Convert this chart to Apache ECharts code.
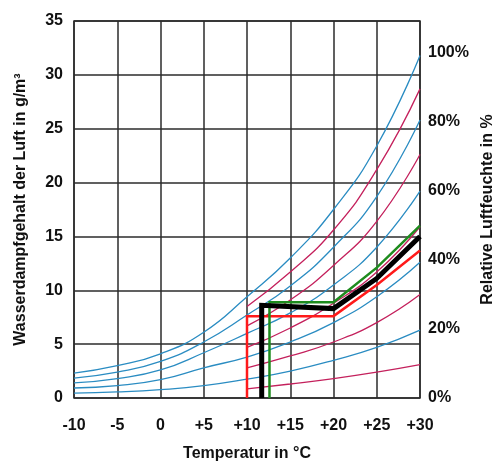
<!DOCTYPE html>
<html>
<head>
<meta charset="utf-8">
<script src="https://cdn.jsdelivr.net/npm/echarts@6/dist/echarts.min.js"></script>
<style>
html,body{margin:0;padding:0;background:#fff;}
#c{width:500px;height:471px;}
</style>
</head>
<body>
<div id="c"></div>
<script>
// Temperatures (°C) at which the humidity curves are read
const temps = [-10, -5, 0, 5, 10, 15, 20, 25, 30];
// Absolute humidity (g/m³) for each relative humidity curve
const rh100 = [2.3, 3.0, 4.1, 6.1, 9.4, 13.0, 17.5, 23.4, 31.8];
const rh90  = [null, null, null, null, 8.5, 11.7, 15.6, 21.2, 28.7];
const rh80  = [1.85, 2.4, 3.4, 5.2, 7.7, 10.4, 14.0, 18.7, 25.8];
const rh70  = [null, null, null, null, 6.7, 9.1, 12.3, 16.4, 22.6];
const rh60  = [1.4, 1.8, 2.6, 4.2, 6.0, 7.9, 10.5, 14.0, 19.2];
const rh50  = [null, null, null, null, 4.7, 6.5, 8.8, 11.7, 15.9];
const rh40  = [0.93, 1.15, 1.7, 2.8, 3.8, 5.2, 7.0, 9.4, 12.6];
const rh30  = [null, null, null, null, 2.8, 3.9, 5.2, 7.0, 9.6];
const rh20  = [0.46, 0.56, 0.77, 1.14, 1.75, 2.5, 3.5, 4.7, 6.3];
const rh10  = [null, null, null, null, 0.85, 1.3, 1.8, 2.4, 3.1];

// Highlighted paths: [temperature, g/m³]
const redPath   = [[10, 0], [10, 7.6], [20, 7.6], [25, 10.5], [30, 13.7]];
const greenPath = [[12.6, 0], [12.6, 8.9], [20, 8.9], [25, 12.1], [30, 16.0]];
const blackPath = [[11.7, 0], [11.7, 8.6], [20, 8.3], [25, 11.1], [30, 15.0]];

// Axis ticks
const xTicks = [-10, -5, 0, 5, 10, 15, 20, 25, 30];
const yTicks = [0, 5, 10, 15, 20, 25, 30, 35];
const rhTicks = [0, 20, 40, 60, 80, 100];

const BLUE = '#2a8cc2';
const CRIMSON = '#c4205c';
const FONT = 'Liberation Sans, Arial, sans-serif';

function curve(vals, color) {
  const data = [];
  temps.forEach((t, i) => { if (vals[i] != null) data.push([t, vals[i]]); });
  return {
    type: 'line', data: data, smooth: 0.5, showSymbol: false,
    lineStyle: { color: color, width: 1.3 }, z: 2, silent: true
  };
}
function path(pts, color, w, z) {
  return {
    type: 'line', data: pts, showSymbol: false, smooth: false,
    lineStyle: { color: color, width: w, join: 'miter', cap: 'butt' }, z: z, silent: true
  };
}

const chart = echarts.init(document.getElementById('c'), null, { renderer: 'canvas' });
const labelStyle = { fontFamily: FONT, fontWeight: 'bold', fontSize: 16, color: '#111' };

chart.setOption({
  animation: false,
  backgroundColor: '#fff',
  grid: { left: 74, right: 80, top: 21, bottom: 73, show: true, borderColor: '#2b2b2b', borderWidth: 1.5,
          containLabel: false, outerBoundsMode: 'none' },
  xAxis: {
    type: 'value', min: xTicks[0], max: xTicks[xTicks.length - 1], interval: 5,
    axisLine: { show: false }, axisTick: { show: false },
    splitLine: { show: true, lineStyle: { color: '#2b2b2b', width: 1.5 } },
    axisLabel: Object.assign({ margin: 20, formatter: v => (v > 0 ? '+' + v : '' + v) }, labelStyle),
    name: 'Temperatur in °C', nameLocation: 'middle', nameGap: 48,
    nameTextStyle: labelStyle
  },
  yAxis: [
    {
      type: 'value', min: yTicks[0], max: yTicks[yTicks.length - 1], interval: 5,
      axisLine: { show: false }, axisTick: { show: false },
      splitLine: { show: true, lineStyle: { color: '#2b2b2b', width: 1.5 } },
      axisLabel: Object.assign({ margin: 11 }, labelStyle),
      name: 'Wasserdampfgehalt der Luft in g/m³', nameLocation: 'middle', nameGap: 45,
      nameTextStyle: labelStyle
    },
    {
      type: 'value', min: 0, max: 109, interval: 20, position: 'right',
      axisLine: { show: false }, axisTick: { show: false }, splitLine: { show: false },
      axisLabel: Object.assign({ margin: 8, formatter: v => (rhTicks.indexOf(v) >= 0 ? v + '%' : '') }, labelStyle),
      name: 'Relative Luftfeuchte in %', nameLocation: 'middle', nameGap: 54,
      nameTextStyle: labelStyle
    }
  ],
  series: [
    curve(rh100, BLUE), curve(rh90, CRIMSON), curve(rh80, BLUE), curve(rh70, CRIMSON),
    curve(rh60, BLUE), curve(rh50, CRIMSON), curve(rh40, BLUE), curve(rh30, CRIMSON),
    curve(rh20, BLUE), curve(rh10, CRIMSON),
    path(redPath, '#ff1a1a', 2.5, 5),
    path(greenPath, '#1e8c1e', 2.5, 6),
    path(blackPath, '#000000', 5, 7)
  ]
});
</script>
</body>
</html>
